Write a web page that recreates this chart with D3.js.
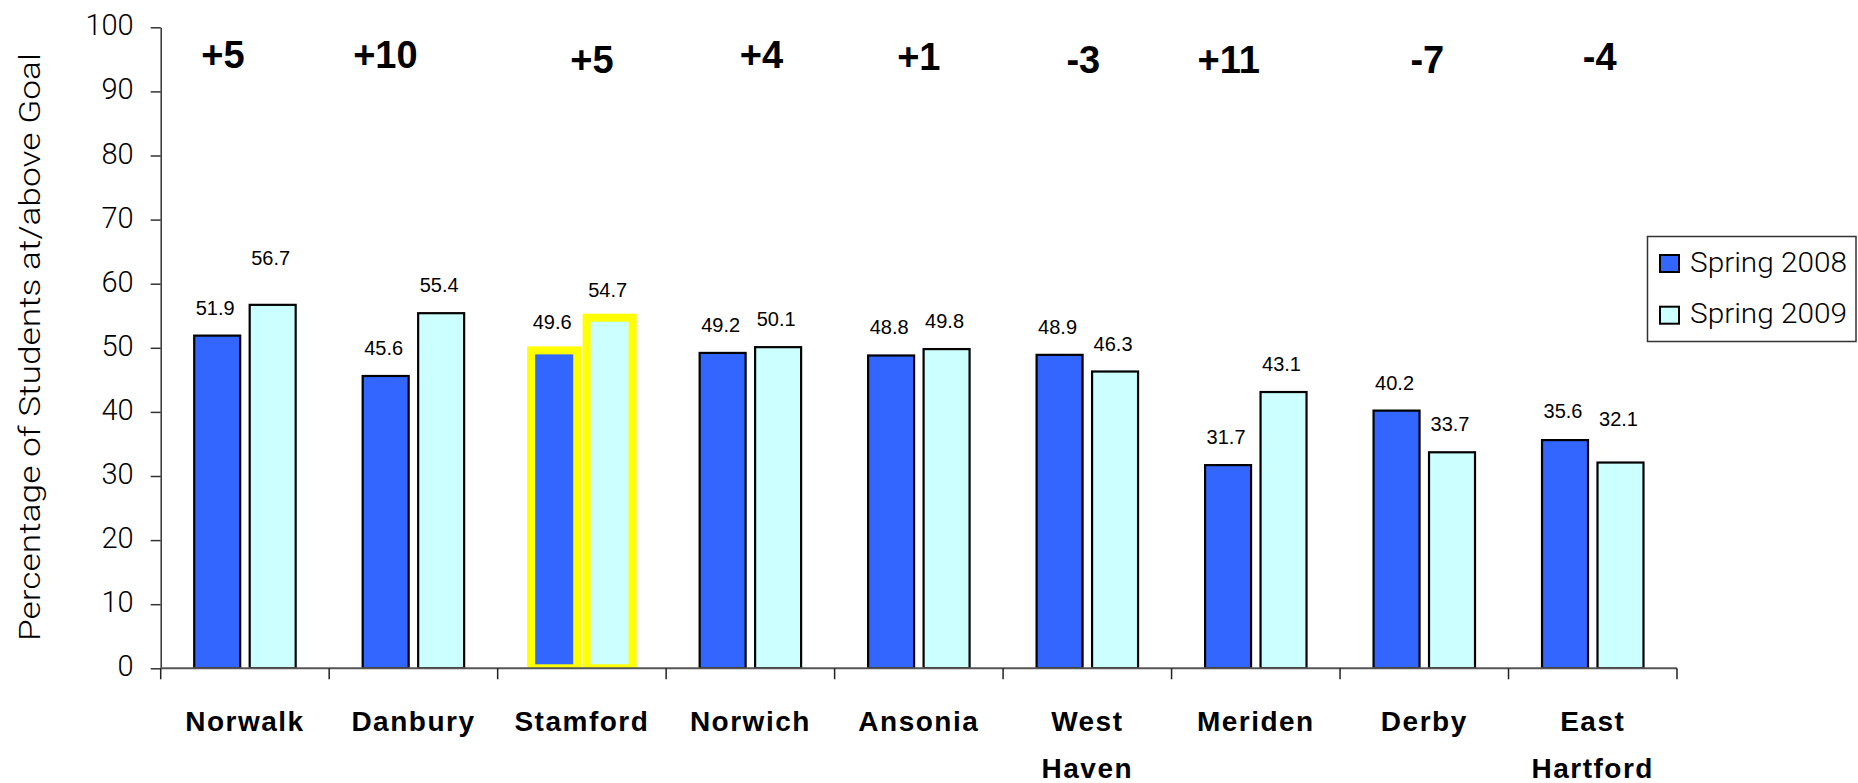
<!DOCTYPE html>
<html>
<head>
<meta charset="utf-8">
<script src="https://cdn.jsdelivr.net/npm/d3@7"></script>
<style>
  html, body { margin: 0; padding: 0; background: #fff; }
  svg { display: block; }
</style>
</head>
<body>
<svg id="chart" width="1858" height="783"></svg>
<script>
// ---------------- data ----------------
const categories = ["Norwalk", "Danbury", "Stamford", "Norwich", "Ansonia", "West\nHaven", "Meriden", "Derby", "East\nHartford"];
const seriesNames = ["Spring 2008", "Spring 2009"];
const spring2008 = [51.9, 45.6, 49.6, 49.2, 48.8, 48.9, 31.7, 40.2, 35.6];
const spring2009 = [56.7, 55.4, 54.7, 50.1, 49.8, 46.3, 43.1, 33.7, 32.1];
const changeLabels = ["+5", "+10", "+5", "+4", "+1", "-3", "+11", "-7", "-4"];
const yTicks = [0, 10, 20, 30, 40, 50, 60, 70, 80, 90, 100];
const highlightCategory = "Stamford";
const yTitle = "Percentage of Students at/above Goal";

// ---------------- layout (hand placed annotations) ----------------
const changeNudgeX = [-22, -28, 10, 11, 0, -4, -27, 3, 7];
const changeNudgeY = [0, 0, 5, 0, 2, 5, 5, 5, 2];
const liftLabel2008 = [0, 0, 0, 0, 0, 0, 0, 0, 1];
const liftLabel2009 = [19, 0, 0, 0, 0, 0, 0, 0, 16];

const colors = { "Spring 2008": "#3366FF", "Spring 2009": "#CCFFFF" };
const svg = d3.select("#chart");

const plotLeft = 160.7, plotRight = 1677, plotTop = 27.3, plotBottom = 668.3;

const x0 = d3.scaleBand().domain(categories).range([plotLeft, plotRight]).paddingInner(0).paddingOuter(0);
const x1 = d3.scaleBand().domain(seriesNames).range([0, x0.bandwidth()]).paddingInner(0.171).paddingOuter(0.604);
const y = d3.scaleLinear().domain([0, 100]).range([plotBottom, plotTop]);

const rows = categories.map((c, i) => ({
  cat: c, i,
  values: [
    { s: seriesNames[0], v: spring2008[i], lift: liftLabel2008[i] },
    { s: seriesNames[1], v: spring2009[i], lift: liftLabel2009[i] }
  ]
}));

// clip so the highlight outline stops at the axis
svg.append("defs").append("clipPath").attr("id", "plotclip")
  .append("rect").attr("x", 0).attr("y", 0).attr("width", 1858).attr("height", plotBottom);

const barLayer = svg.append("g").attr("clip-path", "url(#plotclip)");
const labelLayer = svg.append("g");

// bars
const groups = barLayer.selectAll("g").data(rows).join("g")
  .attr("transform", d => `translate(${x0(d.cat)},0)`);

groups.each(function(d) {
  const g = d3.select(this);
  const hl = d.cat === highlightCategory;
  g.selectAll("rect").data(d.values).join("rect")
    .attr("x", v => x1(v.s))
    .attr("y", v => y(v.v))
    .attr("width", x1.bandwidth())
    .attr("height", v => y(0) - y(v.v))
    .attr("fill", v => colors[v.s])
    .attr("stroke", hl ? "#FFFF00" : "#000")
    .attr("stroke-width", hl ? 8 : 2.2);
});

// value labels
const lgroups = labelLayer.selectAll("g").data(rows).join("g")
  .attr("transform", d => `translate(${x0(d.cat)},0)`);
lgroups.selectAll("text").data(d => d.values).join("text")
  .attr("x", v => x1(v.s) + x1.bandwidth() / 2 - 2)
  .attr("y", v => y(v.v) - 21 - v.lift)
  .attr("text-anchor", "middle")
  .attr("font-family", "'Liberation Sans', Arial, sans-serif")
  .attr("font-size", 20)
  .attr("fill", "#000")
  .text(v => v.v.toFixed(1));

// y axis
const yAxis = svg.append("g").attr("transform", `translate(${plotLeft},0)`)
  .call(d3.axisLeft(y).tickValues(yTicks).tickSize(10).tickPadding(17).tickSizeOuter(0));
yAxis.select(".domain").attr("stroke", "#333").attr("stroke-width", 1.5);
yAxis.selectAll(".tick line").attr("stroke", "#333").attr("stroke-width", 1.5);
yAxis.selectAll(".tick text")
  .attr("font-family", "Roboto, 'Open Sans', sans-serif")
  .attr("font-weight", 300)
  .attr("font-size", 29)
  .attr("fill", "#000")
  .attr("dy", null)
  .attr("y", 7.5);

// x axis baseline and category ticks
svg.append("line")
  .attr("x1", plotLeft).attr("x2", plotRight)
  .attr("y1", y(0)).attr("y2", y(0))
  .attr("stroke", "#555").attr("stroke-width", 2);
const boundaries = d3.range(categories.length + 1).map(k => plotLeft + k * x0.step());
svg.append("g").selectAll("line").data(boundaries).join("line")
  .attr("x1", d => d).attr("x2", d => d)
  .attr("y1", y(0)).attr("y2", y(0) + 11)
  .attr("stroke", "#222").attr("stroke-width", 1.5);

// category labels
const catLabels = svg.append("g").selectAll("text").data(categories).join("text")
  .attr("x", d => x0(d) + x0.bandwidth() / 2)
  .attr("y", 731)
  .attr("text-anchor", "middle")
  .attr("font-family", "'Liberation Sans', Arial, sans-serif")
  .attr("font-weight", "bold")
  .attr("font-size", 28)
  .attr("letter-spacing", 1.5)
  .attr("fill", "#000");
catLabels.each(function(d) {
  const t = d3.select(this);
  d.split("\n").forEach((line, k) => {
    t.append("tspan").attr("x", x0(d) + x0.bandwidth() / 2).attr("dy", k === 0 ? 0 : 47).text(line);
  });
});

// change labels
svg.append("g").selectAll("text").data(changeLabels).join("text")
  .attr("x", (d, i) => x0(categories[i]) + x0.bandwidth() / 2 + changeNudgeX[i])
  .attr("y", (d, i) => 68 + changeNudgeY[i])
  .attr("text-anchor", "middle")
  .attr("font-family", "'Liberation Sans', Arial, sans-serif")
  .attr("font-weight", "bold")
  .attr("font-size", 38)
  .attr("fill", "#000")
  .text(d => d);

// y title
svg.append("text")
  .attr("transform", `translate(40,347) rotate(-90)`)
  .attr("text-anchor", "middle")
  .attr("font-family", "Roboto, 'Open Sans', sans-serif")
  .attr("font-weight", 300)
  .attr("font-size", 29)
  .attr("textLength", 588)
  .attr("lengthAdjust", "spacingAndGlyphs")
  .attr("fill", "#000")
  .text(yTitle);

// legend
const legend = svg.append("g");
legend.append("rect")
  .attr("x", 1647.5).attr("y", 236.5).attr("width", 208.5).attr("height", 105)
  .attr("fill", "#fff").attr("stroke", "#333").attr("stroke-width", 1.5);
const li = legend.selectAll("g").data(seriesNames).join("g")
  .attr("transform", (d, k) => `translate(0,${k * 51.7})`);
li.append("rect")
  .attr("x", 1660).attr("y", 255).attr("width", 19).attr("height", 17)
  .attr("fill", d => colors[d]).attr("stroke", "#000").attr("stroke-width", 2);
li.append("text")
  .attr("x", 1690).attr("y", 271.7)
  .attr("font-family", "Roboto, 'Open Sans', sans-serif")
  .attr("font-weight", 300)
  .attr("font-size", 28)
  .attr("textLength", 157)
  .attr("lengthAdjust", "spacingAndGlyphs")
  .attr("fill", "#000")
  .text(d => d);
</script>
</body>
</html>
